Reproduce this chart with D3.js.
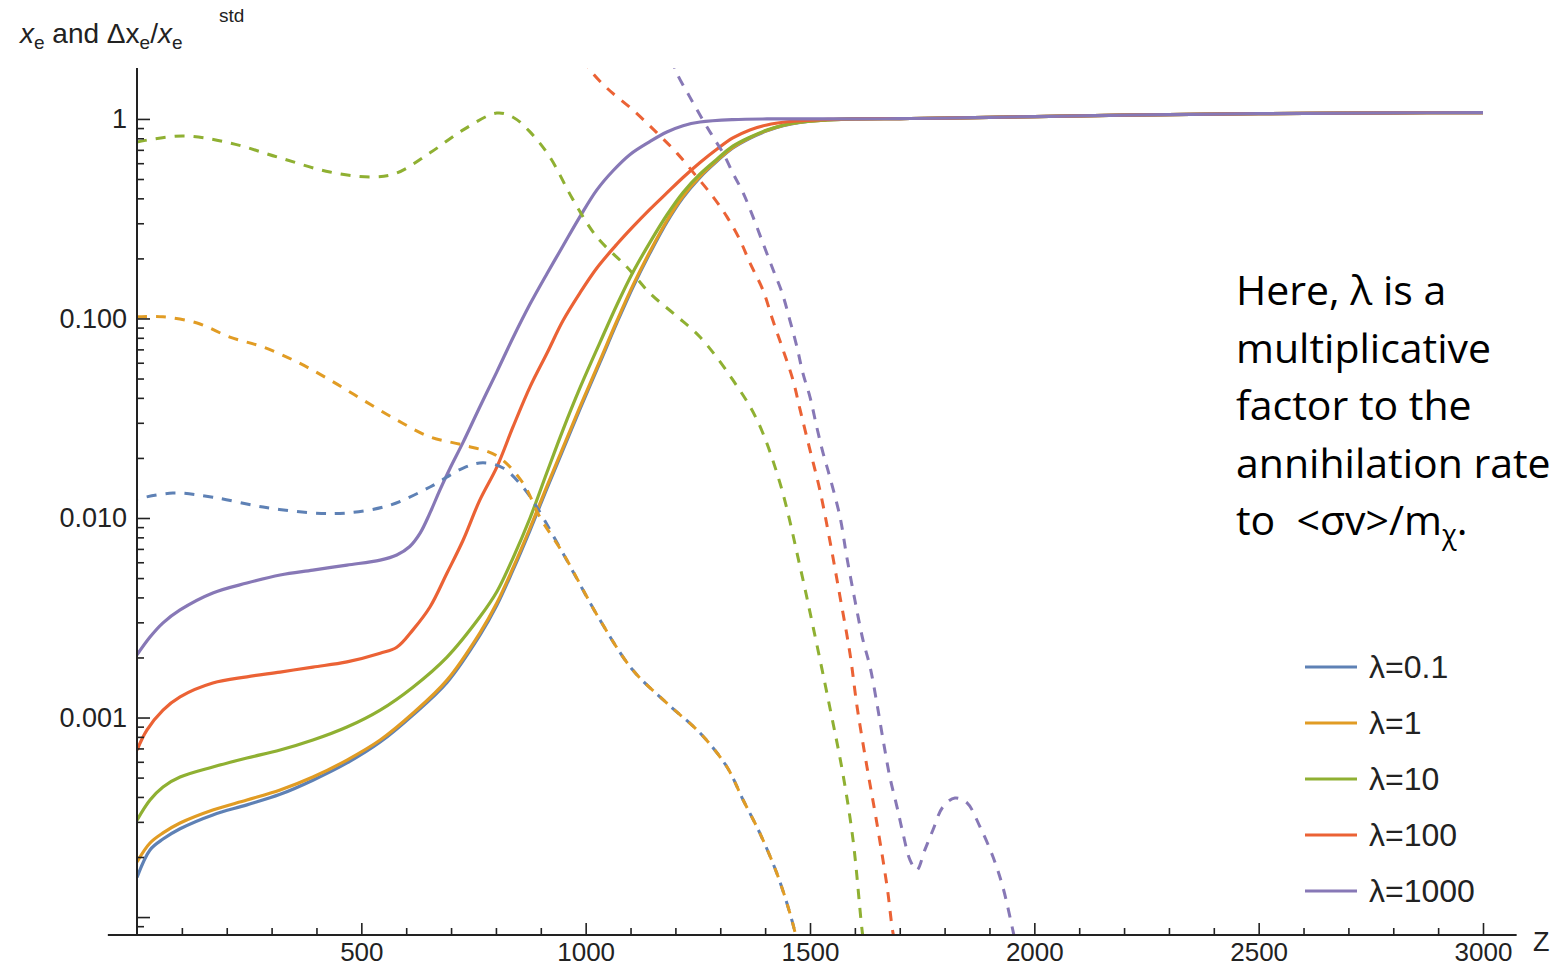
<!DOCTYPE html>
<html>
<head>
<meta charset="utf-8">
<script src="https://cdn.jsdelivr.net/npm/d3@7"></script>
<style>
body { margin: 0; background: #fff; }
</style>
</head>
<body>
<svg width="1552" height="969"></svg>
<script>
// series names + colours (Mathematica default palette)
var lambdas = ["λ=0.1", "λ=1", "λ=10", "λ=100", "λ=1000"];
var colors = ["#5e81b5", "#e19c24", "#8fb032", "#eb6235", "#8778b6"];

var xTicks = [500, 1000, 1500, 2000, 2500, 3000];
var yTicks = [1, 0.1, 0.01, 0.001, 0.0001];
var yTickLabels = ["1", "0.100", "0.010", "0.001", ""];

// x_e (solid), pairs of [z, value]
var xeTail = [[1600, 1.0], [1700, 1.004], [1800, 1.01], [1900, 1.018], [2000, 1.028], [2200, 1.045], [2500, 1.062], [2800, 1.072], [3000, 1.076]];
var xeBlue = [[0, 0.000158], [29, 0.000217], [58, 0.000246], [96, 0.000277], [169, 0.000325], [245, 0.000365], [319, 0.000412], [392, 0.000485], [468, 0.000592], [542, 0.000754], [615, 0.00103], [691, 0.0015], [764, 0.00258], [802, 0.00365], [838, 0.00548], [876, 0.00868], [914, 0.0141], [949, 0.0218], [987, 0.035], [1032, 0.0602], [1070, 0.0955], [1105, 0.143], [1143, 0.212], [1181, 0.304], [1217, 0.404], [1255, 0.51], [1293, 0.615], [1328, 0.715], [1366, 0.8], [1404, 0.872], [1440, 0.926], [1478, 0.962], [1538, 0.988], [1570, 0.996]];
var xeOrange = [[0, 0.000189], [29, 0.000235], [58, 0.000264], [96, 0.000296], [169, 0.000344], [245, 0.000386], [319, 0.000433], [392, 0.000503], [468, 0.000612], [542, 0.000771], [615, 0.00105], [691, 0.00154], [764, 0.00265], [802, 0.00375], [838, 0.00562], [876, 0.00891], [914, 0.0145], [949, 0.0224], [987, 0.0359], [1032, 0.0617], [1070, 0.0977], [1105, 0.146], [1143, 0.216], [1181, 0.309], [1217, 0.41], [1255, 0.515], [1293, 0.62], [1328, 0.72], [1366, 0.805], [1404, 0.875], [1440, 0.928], [1478, 0.963], [1538, 0.988], [1570, 0.996]];
var xeGreen = [[0, 0.000306], [29, 0.000386], [58, 0.000449], [96, 0.000503], [169, 0.000565], [245, 0.000627], [319, 0.000687], [392, 0.000771], [468, 0.000896], [542, 0.00109], [615, 0.00142], [691, 0.00201], [764, 0.00319], [802, 0.00427], [838, 0.0063], [876, 0.01], [914, 0.017], [949, 0.0275], [987, 0.0447], [1032, 0.0759], [1070, 0.1175], [1105, 0.17], [1143, 0.24], [1181, 0.33], [1217, 0.428], [1255, 0.53], [1293, 0.63], [1328, 0.73], [1366, 0.81], [1404, 0.88], [1440, 0.93], [1478, 0.963], [1538, 0.988], [1570, 0.996]];
var xeRed = [[0, 0.000687], [22, 0.000865], [58, 0.00109], [96, 0.00127], [169, 0.00149], [245, 0.0016], [319, 0.00169], [392, 0.00179], [468, 0.0019], [542, 0.0021], [579, 0.00225], [615, 0.00275], [653, 0.00358], [691, 0.0053], [727, 0.00776], [764, 0.0123], [802, 0.018], [838, 0.0286], [876, 0.0454], [914, 0.0671], [949, 0.0971], [987, 0.134], [1025, 0.179], [1070, 0.236], [1105, 0.2875], [1143, 0.352], [1181, 0.4257], [1217, 0.509], [1255, 0.605], [1293, 0.707], [1328, 0.803], [1366, 0.881], [1404, 0.933], [1449, 0.968], [1493, 0.984], [1540, 0.995]];
var xePurple = [[0, 0.00206], [29, 0.00253], [58, 0.00298], [96, 0.00346], [169, 0.00421], [245, 0.00472], [319, 0.00518], [392, 0.00548], [468, 0.00581], [542, 0.00615], [579, 0.00653], [608, 0.0072], [631, 0.0084], [653, 0.0106], [675, 0.0138], [698, 0.0178], [727, 0.024], [764, 0.036], [802, 0.054], [838, 0.08], [876, 0.118], [914, 0.168], [949, 0.23], [987, 0.323], [1025, 0.441], [1061, 0.55], [1099, 0.664], [1143, 0.77], [1181, 0.86], [1217, 0.925], [1255, 0.965], [1328, 0.992], [1404, 1.0], [1500, 1.0]];

// delta x_e / x_e^std (dashed)
var dBlue = [[0, 0.01245], [80, 0.01334], [169, 0.0127], [281, 0.01135], [392, 0.0106], [468, 0.0106], [564, 0.0116], [653, 0.0143], [727, 0.0178], [771, 0.0189], [816, 0.0178], [860, 0.0143], [891, 0.01135], [949, 0.00668], [1032, 0.00308], [1105, 0.00173], [1181, 0.00118], [1255, 0.000836], [1315, 0.000565], [1351, 0.000386], [1388, 0.000264], [1426, 0.000166], [1455, 0.000105], [1471, 0.0000767]];
var dOrange = [[0, 0.102], [58, 0.102], [134, 0.0949], [207, 0.0807], [281, 0.0719], [357, 0.0605], [430, 0.0492], [504, 0.039], [579, 0.031], [653, 0.0255], [727, 0.0232], [802, 0.0205], [860, 0.015], [898, 0.0101], [949, 0.00668], [1032, 0.00308], [1105, 0.00173], [1181, 0.00118], [1255, 0.000836], [1315, 0.000565], [1351, 0.000386], [1388, 0.000264], [1426, 0.000166], [1455, 0.000105], [1471, 0.0000767]];
var dGreen = [[0, 0.767], [103, 0.822], [207, 0.758], [319, 0.638], [430, 0.542], [526, 0.512], [579, 0.536], [653, 0.676], [727, 0.881], [802, 1.07], [838, 1.02], [876, 0.861], [920, 0.645], [972, 0.393], [1025, 0.256], [1092, 0.181], [1143, 0.134], [1200, 0.104], [1255, 0.0807], [1328, 0.0492], [1382, 0.031], [1433, 0.015], [1478, 0.00568], [1507, 0.00284], [1544, 0.00113], [1573, 0.000527], [1596, 0.000243], [1616, 0.0000861], [1625, 0.00006]];
var dRed = [[995, 2.0], [1010, 1.76], [1047, 1.43], [1105, 1.11], [1159, 0.851], [1203, 0.676], [1248, 0.512], [1284, 0.407], [1315, 0.323], [1344, 0.247], [1366, 0.19], [1395, 0.139], [1417, 0.0982], [1440, 0.0695], [1462, 0.0492], [1478, 0.0348], [1500, 0.0219], [1522, 0.0138], [1544, 0.00776], [1567, 0.00402], [1589, 0.0021], [1605, 0.00113], [1627, 0.000565], [1649, 0.000296], [1672, 0.000141], [1685, 0.0000832], [1694, 0.0000684]];
var dPurple = [[1192, 2.0], [1203, 1.7], [1232, 1.29], [1261, 0.989], [1284, 0.812], [1306, 0.676], [1328, 0.536], [1351, 0.426], [1373, 0.323], [1395, 0.239], [1418, 0.175], [1438, 0.134], [1455, 0.0982], [1471, 0.0719], [1484, 0.0533], [1500, 0.0404], [1515, 0.0286], [1529, 0.0212], [1544, 0.0161], [1567, 0.0101], [1582, 0.00638], [1600, 0.00388], [1618, 0.00245], [1634, 0.00179], [1649, 0.00118], [1663, 0.000771], [1678, 0.000503], [1694, 0.000356], [1707, 0.000264], [1723, 0.000193], [1738, 0.000172], [1756, 0.000217], [1774, 0.000273], [1796, 0.000356], [1823, 0.000395], [1850, 0.000373], [1879, 0.000283], [1908, 0.0002], [1930, 0.000141], [1952, 0.0000861], [1959, 0.0000724]];

var solidSeries = [xeBlue.concat(xeTail), xeOrange.concat(xeTail), xeGreen.concat(xeTail), xeRed.concat(xeTail), xePurple.concat(xeTail)];
var dashedSeries = [dBlue, dOrange, dGreen, dRed, dPurple];

var font = "Liberation Sans, Arial, sans-serif";
var ink = "#222";

var svg = d3.select("svg");
svg.append("rect").attr("width", 1552).attr("height", 969).attr("fill", "#fff");

var x = d3.scaleLinear().domain([0, 3000]).range([137, 1483]);
var y = d3.scaleLog().domain([8.13e-5, 1.8]).range([935, 68]);

svg.append("clipPath").attr("id", "plotClip")
  .append("rect").attr("x", 137).attr("y", 68).attr("width", 1380).attr("height", 867);

var line = d3.line()
  .x(d => x(d[0]))
  .y(d => y(d[1]))
  .curve(d3.curveCatmullRom.alpha(0.5));

var plot = svg.append("g").attr("clip-path", "url(#plotClip)");

plot.selectAll("path.solid")
  .data(solidSeries)
  .enter().append("path")
  .attr("class", "solid")
  .attr("d", line)
  .attr("fill", "none")
  .attr("stroke", (d, i) => colors[i])
  .attr("stroke-width", 3.2);

plot.selectAll("path.dashed")
  .data(dashedSeries)
  .enter().append("path")
  .attr("class", "dashed")
  .attr("d", line)
  .attr("fill", "none")
  .attr("stroke", (d, i) => colors[i])
  .attr("stroke-width", 3)
  .attr("stroke-dasharray", "10,9")
  .attr("stroke-dashoffset", (d, i) => i == 0 ? 9 : 0);

// axes
var minorX = d3.range(100, 3100, 100).filter(v => v % 500 != 0);
var minorY = [];
[1e-5, 1e-4, 1e-3, 1e-2, 1e-1].forEach(function(dec) {
  for (var k = 2; k <= 9; k++) {
    var v = dec * k;
    if (v > 8.2e-5 && v < 1.8) minorY.push(v);
  }
});

var xAxisGroup = svg.append("g").attr("transform", "translate(0,935)");
xAxisGroup.call(d3.axisBottom(x).tickValues(xTicks).tickSize(-12).tickSizeOuter(0).tickPadding(8)
  .tickFormat(d3.format("d")));
xAxisGroup.append("g").call(d3.axisBottom(x).tickValues(minorX).tickSize(-7).tickSizeOuter(0).tickFormat(""));

var yAxisGroup = svg.append("g").attr("transform", "translate(137,0)");
yAxisGroup.call(d3.axisLeft(y).tickValues(yTicks).tickSize(-13).tickSizeOuter(0).tickPadding(10)
  .tickFormat((d, i) => yTickLabels[i]));
yAxisGroup.append("g").call(d3.axisLeft(y).tickValues(minorY).tickSize(-7).tickSizeOuter(0).tickFormat(""));

svg.selectAll(".domain").remove();
svg.selectAll(".tick line").attr("stroke", ink).attr("stroke-width", 1.6);
svg.selectAll(".tick text").attr("font-size", 27).attr("fill", ink).attr("font-family", font);
xAxisGroup.selectAll(".tick text").attr("font-size", 26);

svg.append("line").attr("x1", x(-65)).attr("x2", x(3075)).attr("y1", 935).attr("y2", 935)
  .attr("stroke", ink).attr("stroke-width", 2);
svg.append("line").attr("x1", 137).attr("x2", 137).attr("y1", 68).attr("y2", 935)
  .attr("stroke", ink).attr("stroke-width", 2);

svg.append("text").attr("x", 1533).attr("y", 951).attr("font-size", 27)
  .attr("font-family", font).attr("fill", ink).text("Z");

// y label
var yLabel = svg.append("text").attr("x", 20).attr("y", 43).attr("font-size", 28)
  .attr("font-family", font).attr("fill", ink);
yLabel.append("tspan").attr("font-style", "italic").text("x");
yLabel.append("tspan").attr("font-size", 19).attr("dy", 6).text("e");
yLabel.append("tspan").attr("dy", -6).text(" and Δx");
yLabel.append("tspan").attr("font-size", 19).attr("dy", 6).text("e");
yLabel.append("tspan").attr("dy", -6).text("/");
yLabel.append("tspan").attr("font-style", "italic").text("x");
yLabel.append("tspan").attr("font-size", 19).attr("dy", 6).text("e");
svg.append("text").attr("x", 219).attr("y", 22).attr("font-size", 19)
  .attr("font-family", font).attr("fill", ink).text("std");

// legend
var legend = svg.append("g").attr("transform", "translate(1305,667)");
var items = legend.selectAll("g").data(lambdas).enter().append("g")
  .attr("transform", (d, i) => "translate(0," + (i * 56) + ")");
items.append("line").attr("x1", 0).attr("x2", 52).attr("y1", 0).attr("y2", 0)
  .attr("stroke", (d, i) => colors[i]).attr("stroke-width", 3.2);
items.append("text").attr("x", 64).attr("y", 11).attr("font-size", 32)
  .attr("font-family", font).attr("fill", ink).text(d => d);

// note on the right
var noteFont = "'Open Sans', 'Noto Sans', sans-serif";
var noteLines = ["Here, λ is a", "multiplicative", "factor to the", "annihilation rate"];
noteLines.forEach(function(t, i) {
  svg.append("text").attr("x", 1236).attr("y", 305 + i * 57.5)
    .attr("font-size", 41).style("font-family", noteFont).attr("fill", "#000").text(t);
});
var last = svg.append("text").attr("x", 1236).attr("y", 535)
  .attr("font-size", 41).style("font-family", noteFont).attr("fill", "#000");
last.append("tspan").text("to\u00a0\u00a0<σv>/m");
last.append("tspan").attr("font-size", 27).attr("dy", 9).text("χ");
last.append("tspan").attr("dy", -9).text(".");
</script>
</body>
</html>
